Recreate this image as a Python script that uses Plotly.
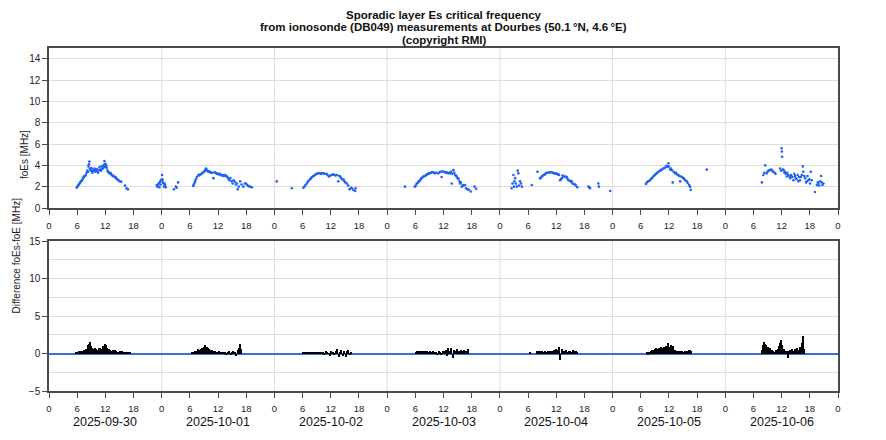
import plotly.graph_objects as go

# ---------------- data ----------------
DATES = ["2025-09-30", "2025-10-01", "2025-10-02", "2025-10-03",
         "2025-10-04", "2025-10-05", "2025-10-06"]
TICK_HOURS = [0, 6, 12, 18]

TITLE_LINES = ["Sporadic layer Es critical frequency",
               "from ionosonde (DB049) measurements at Dourbes (50.1\u2009°N, 4.6\u2009°E)",
               "(copyright RMI)"]

# foEs [MHz] per day: (hour of day, value)
FOES_0930 = [(5.9, 1.9), (6.05, 2.0), (6.2, 2.1), (6.35, 2.2), (6.5, 2.3), (6.65, 2.4), (6.8, 2.5),
             (6.95, 2.55), (7.1, 2.65), (7.25, 2.8), (7.4, 2.9), (7.55, 3.0), (7.7, 3.0), (7.85, 3.1),
             (8.0, 3.3), (8.15, 3.5), (8.3, 3.4), (8.4, 3.9), (8.5, 4.1), (8.6, 4.35), (8.7, 3.7),
             (8.8, 3.6), (8.9, 3.5), (9.0, 3.75), (9.1, 3.45), (9.25, 3.3), (9.4, 3.6), (9.55, 3.5),
             (9.7, 3.7), (9.85, 3.4), (10.0, 3.55), (10.15, 3.65), (10.3, 3.4), (10.45, 3.3),
             (10.6, 3.55), (10.75, 3.85), (10.9, 3.6), (11.05, 3.5), (11.2, 3.9), (11.35, 3.65),
             (11.5, 3.75), (11.6, 3.95), (11.7, 4.05), (11.8, 4.4), (11.9, 3.85), (12.0, 4.15),
             (12.1, 3.9), (12.2, 4.0), (12.3, 3.75), (12.45, 3.5), (12.6, 3.4), (12.75, 3.3),
             (12.9, 3.25), (13.05, 3.3), (13.2, 3.2), (13.35, 3.1), (13.5, 3.05), (13.65, 3.0),
             (13.8, 2.95), (14.0, 2.9), (14.15, 2.9), (14.3, 2.8), (14.5, 2.7), (14.7, 2.65),
             (14.9, 2.55), (15.1, 2.5), (15.4, 2.45), (16.2, 2.1), (16.5, 1.85), (16.8, 1.75),
             (22.93, 2.16), (23.06, 2.0), (23.2, 2.1), (23.36, 2.32), (23.5, 1.95), (23.64, 2.47),
             (23.75, 2.2), (23.85, 2.63)]
FOES_1001 = [(0.07, 3.1), (0.15, 2.7), (0.2, 2.47), (0.34, 2.32), (0.49, 2.0), (0.6, 2.3),
             (0.7, 2.16), (0.85, 1.94), (2.6, 1.75), (3.0, 2.0), (3.2, 1.9), (3.5, 2.4),
             (6.7, 2.07), (6.85, 2.2), (7.0, 2.35), (7.1, 2.5), (7.3, 2.7), (7.5, 2.9), (7.8, 3.1),
             (8.0, 3.05), (8.2, 3.15), (8.5, 3.2), (8.7, 3.3), (8.9, 3.35), (9.1, 3.45), (9.25, 3.55),
             (9.4, 3.7), (9.55, 3.6), (9.7, 3.5), (9.9, 3.4), (10.1, 3.45), (10.3, 3.35), (10.5, 3.3),
             (10.7, 3.3), (11.0, 2.8), (11.2, 3.35), (11.4, 3.3), (11.6, 3.25), (11.8, 3.2),
             (12.0, 3.2), (12.2, 3.15), (12.4, 3.2), (12.6, 3.1), (12.8, 3.05), (13.0, 3.1),
             (13.2, 3.0), (13.5, 3.1), (13.7, 3.0), (13.85, 2.95), (14.0, 2.9), (14.2, 2.75),
             (14.4, 2.6), (14.6, 2.8), (14.9, 2.5), (15.1, 2.3), (15.3, 2.6), (15.6, 2.45),
             (15.8, 2.2), (16.0, 2.3), (16.2, 1.75), (16.4, 2.0), (16.7, 2.5), (17.0, 2.2),
             (17.4, 2.0), (17.7, 2.3), (17.95, 2.3), (18.2, 2.15), (18.5, 2.05), (18.8, 2.0),
             (19.2, 1.95)]
FOES_1002 = [(0.5, 2.5), (3.7, 1.85),
             (6.15, 1.9), (6.4, 2.0), (6.6, 2.15), (6.9, 2.3), (7.1, 2.45), (7.3, 2.55), (7.6, 2.7),
             (7.8, 2.8), (8.0, 2.9), (8.3, 3.0), (8.5, 3.05), (8.8, 3.15), (9.0, 3.2), (9.3, 3.25),
             (9.6, 3.25), (9.9, 3.2), (10.1, 3.25), (10.4, 3.25), (10.7, 3.2), (11.1, 3.2),
             (11.3, 3.1), (11.6, 2.95), (11.9, 3.05), (12.2, 3.1), (12.5, 3.15), (12.8, 3.1),
             (13.0, 3.05), (13.3, 3.1), (13.6, 2.5), (13.8, 3.0), (14.0, 2.95), (14.2, 2.8),
             (14.5, 2.65), (14.7, 2.7), (14.9, 2.5), (15.1, 2.4), (15.4, 2.3), (15.7, 2.1),
             (16.0, 1.75), (16.3, 1.9), (16.5, 1.85), (16.8, 1.7), (17.2, 1.6), (17.3, 1.85)]
FOES_1003 = [(3.8, 2.0),
             (5.9, 2.0), (6.1, 2.1), (6.3, 2.3), (6.5, 2.35), (6.7, 2.5), (6.85, 2.5), (7.0, 2.6),
             (7.2, 2.75), (7.35, 2.8), (7.5, 2.85), (7.7, 2.95), (7.9, 3.0), (8.1, 3.0), (8.3, 3.1),
             (8.5, 3.15), (8.7, 3.2), (8.9, 3.25), (9.1, 3.25), (9.3, 3.3), (9.5, 3.35), (9.8, 3.35),
             (10.0, 3.3), (10.2, 3.25), (10.5, 3.3), (10.9, 3.25), (11.2, 3.35), (11.4, 3.4),
             (11.6, 2.9), (11.8, 3.45), (12.0, 3.4), (12.3, 3.35), (12.5, 3.3), (12.7, 3.35),
             (13.0, 3.25), (13.2, 3.3), (13.4, 3.25), (13.6, 3.4), (13.75, 2.3), (13.9, 3.2),
             (14.1, 3.55), (14.3, 3.3), (14.5, 3.1), (14.65, 3.05), (14.8, 2.95), (15.0, 2.8),
             (15.2, 2.75), (15.4, 2.5), (15.5, 2.3), (15.7, 2.4), (15.9, 2.0), (16.1, 2.15),
             (16.3, 2.1), (16.6, 2.15), (16.8, 1.85), (17.1, 1.75), (17.4, 1.7), (17.8, 1.55),
             (18.6, 2.0), (18.95, 1.8)]
FOES_1004 = [(2.5, 1.85), (2.7, 2.3), (2.9, 3.1), (3.0, 2.0), (3.1, 2.5), (3.25, 2.8), (3.4, 2.3),
             (3.6, 2.0), (3.8, 3.5), (3.95, 3.25), (4.1, 2.1), (4.3, 2.5), (4.5, 2.3), (4.7, 2.0),
             (6.8, 2.15), (8.0, 3.4),
             (8.55, 2.8), (8.7, 2.8), (8.9, 2.95), (9.1, 3.0), (9.3, 3.1), (9.6, 3.15), (9.8, 3.25),
             (10.0, 3.3), (10.3, 3.3), (10.6, 3.35), (10.8, 3.35), (11.05, 3.35), (11.3, 3.3),
             (11.5, 3.25), (11.75, 3.25), (12.0, 3.2), (12.2, 3.2), (12.45, 3.15), (12.6, 3.1),
             (12.8, 2.6), (13.0, 2.7), (13.2, 2.8), (13.35, 3.05), (13.5, 3.0), (13.8, 2.9),
             (14.0, 2.95), (14.25, 2.9), (14.4, 2.75), (14.6, 2.6), (14.9, 2.55), (15.1, 2.45),
             (15.3, 2.5), (15.5, 2.3), (15.7, 2.25), (16.0, 2.2), (16.2, 2.1), (16.5, 1.95),
             (18.85, 2.0), (19.05, 1.95), (19.2, 1.85), (20.96, 2.3), (21.1, 2.0), (23.5, 1.6)]
FOES_1005 = [(7.1, 2.25), (7.3, 2.4), (7.6, 2.5), (7.8, 2.55), (7.95, 2.6), (8.2, 2.75), (8.4, 2.8),
             (8.65, 2.95), (8.9, 3.05), (9.1, 3.15), (9.4, 3.25), (9.6, 3.35), (9.8, 3.4),
             (10.1, 3.5), (10.3, 3.55), (10.5, 3.6), (10.8, 3.7), (11.0, 3.75), (11.2, 3.8),
             (11.5, 3.95), (11.7, 3.85), (11.9, 4.2), (12.0, 3.9), (12.25, 3.6), (12.4, 3.7),
             (12.6, 3.55), (12.8, 2.4), (13.0, 3.4), (13.3, 3.25), (13.5, 3.3), (13.7, 3.15),
             (14.0, 3.1), (14.2, 3.0), (14.4, 2.5), (14.6, 2.95), (14.9, 2.85), (15.1, 2.8),
             (15.3, 2.7), (15.5, 2.6), (15.8, 2.5), (16.0, 2.35), (16.3, 2.15), (16.5, 2.0),
             (16.65, 1.7), (20.05, 3.6)]
FOES_1006 = [(7.8, 2.4), (8.1, 3.1), (8.3, 3.3), (8.5, 4.0), (8.8, 3.25), (9.0, 3.4), (9.2, 3.5),
             (9.5, 3.55), (9.8, 3.6), (10.0, 3.5), (10.2, 3.4), (10.5, 3.3), (10.7, 3.2),
             (11.7, 3.7), (11.9, 3.5), (12.0, 5.6), (12.05, 5.3), (12.1, 4.8), (12.3, 3.6),
             (12.4, 3.55), (12.6, 3.3), (12.7, 3.4), (12.9, 3.2), (13.1, 2.95), (13.2, 3.3),
             (13.4, 3.1), (13.6, 3.0), (13.8, 2.8), (14.0, 3.1), (14.1, 2.95), (14.3, 2.9),
             (14.5, 2.6), (14.7, 3.2), (14.85, 3.0), (15.0, 2.8), (15.2, 2.7), (15.4, 3.1),
             (15.55, 2.5), (15.7, 2.9), (15.9, 2.6), (16.1, 2.9), (16.3, 3.1), (16.5, 3.9),
             (16.6, 3.4), (16.8, 3.0), (17.0, 2.8), (17.2, 2.4), (17.35, 2.5), (17.5, 3.0),
             (17.7, 2.6), (17.9, 2.7), (18.05, 2.3), (18.2, 3.4), (18.4, 2.6), (19.1, 1.5),
             (19.5, 2.15), (19.7, 2.4), (19.8, 2.3), (20.0, 2.1), (20.2, 2.5), (20.4, 3.0),
             (20.5, 2.4), (20.7, 2.15), (20.9, 2.3)]

# foEs - foE difference [MHz] per day: (hour of day, value)
DIFF_0930 = [(5.9, 0.15), (6.2, 0.2), (6.5, 0.3), (6.8, 0.35), (7.1, 0.4), (7.4, 0.45), (7.7, 0.5),
             (8.0, 0.55), (8.3, 1.1), (8.5, 1.3), (8.7, 1.6), (8.9, 1.0), (9.2, 0.7), (9.5, 0.6),
             (9.8, 0.75), (10.1, 0.55), (10.4, 0.45), (10.7, 0.7), (11.0, 0.8), (11.3, 0.6),
             (11.6, 1.0), (11.9, 1.25), (12.2, 1.1), (12.5, 0.7), (12.8, 0.55), (13.1, 0.5),
             (13.4, 0.4), (13.7, 0.45), (14.0, 0.5), (14.3, 0.3), (14.6, 0.25), (14.9, 0.2),
             (15.2, 0.3), (15.5, 0.35), (15.8, 0.15), (16.1, 0.1), (16.5, 0.15), (16.9, 0.2),
             (17.2, 0.1)]
DIFF_1001 = [(6.6, 0.15), (6.9, 0.25), (7.2, 0.3), (7.5, 0.4), (7.8, 0.55), (8.1, 0.5), (8.4, 0.6),
             (8.7, 0.7), (9.0, 0.85), (9.3, 1.1), (9.6, 0.9), (9.9, 0.7), (10.2, 0.6), (10.5, 0.5),
             (10.8, 0.45), (11.1, 0.3), (11.4, 0.35), (11.7, 0.25), (12.0, 0.2), (12.3, 0.3),
             (12.6, 0.2), (12.9, 0.15), (13.2, 0.1), (13.5, 0.2), (13.8, -0.1), (14.1, 0.15),
             (14.4, 0.3), (14.7, -0.2), (15.0, 0.1), (15.3, 0.4), (15.6, 0.2), (15.9, -0.3),
             (16.2, 0.5), (16.5, 0.7), (16.8, 1.25), (17.0, 0.6)]
DIFF_1002 = [(6.2, 0.1), (6.5, 0.15), (6.8, 0.1), (7.1, 0.2), (7.4, 0.15), (7.7, 0.1), (8.0, 0.2),
             (8.3, 0.15), (8.6, 0.1), (8.9, 0.2), (9.2, 0.25), (9.5, 0.15), (9.8, 0.1), (10.1, 0.2),
             (10.4, 0.1), (10.7, -0.2), (11.0, 0.3), (11.3, 0.1), (11.6, 0.05), (11.9, -0.35),
             (12.2, 0.4), (12.5, 0.2), (12.8, -0.1), (13.1, 0.3), (13.4, 0.6), (13.7, -0.4),
             (14.0, 0.2), (14.3, 0.5), (14.6, -0.3), (14.9, 0.4), (15.2, -0.5), (15.5, 0.3),
             (15.8, 0.5), (16.1, -0.2), (16.4, 0.2)]
DIFF_1003 = [(6.2, 0.2), (6.5, 0.3), (6.8, 0.35), (7.1, 0.3), (7.4, 0.35), (7.7, 0.4), (8.0, 0.3),
             (8.3, 0.35), (8.6, 0.3), (8.9, 0.25), (9.2, 0.3), (9.5, 0.2), (9.8, 0.3), (10.1, 0.25),
             (10.4, 0.2), (10.7, -0.15), (11.0, 0.3), (11.3, 0.2), (11.6, -0.2), (11.9, 0.4),
             (12.2, 0.3), (12.5, 0.5), (12.8, -0.3), (13.1, 0.7), (13.4, 0.3), (13.7, 0.8),
             (14.0, -0.6), (14.3, 0.5), (14.6, 0.3), (14.9, 0.6), (15.2, 0.35), (15.5, 0.3),
             (15.8, 0.45), (16.1, 0.3), (16.4, 0.5), (16.7, 0.4), (17.0, 0.3), (17.3, 0.55)]
DIFF_1004 = [(6.4, 0.1), (7.9, 0.3), (8.2, 0.35), (8.5, 0.3), (8.8, 0.25), (9.1, 0.3), (9.4, 0.25),
             (9.7, 0.3), (10.0, 0.2), (10.3, 0.35), (10.6, 0.3), (10.9, 0.4), (11.2, 0.3),
             (11.5, 0.5), (11.8, 0.4), (12.1, 0.6), (12.4, 0.5), (12.7, 0.85), (12.9, -0.8),
             (13.2, 0.6), (13.5, 0.4), (13.8, 0.3), (14.1, 0.5), (14.4, 0.2), (14.7, 0.4),
             (15.0, 0.3), (15.3, 0.2), (15.6, 0.45), (15.9, 0.3), (16.2, 0.4), (16.5, 0.25)]
DIFF_1005 = [(7.3, 0.1), (7.6, -0.2), (7.9, 0.2), (8.2, 0.35), (8.5, 0.5), (8.8, 0.45), (9.1, 0.6),
             (9.4, 0.7), (9.7, 0.6), (10.0, 0.75), (10.3, 0.85), (10.6, 0.7), (10.9, 0.9),
             (11.2, 0.8), (11.5, 1.0), (11.8, 1.35), (12.1, 0.9), (12.4, 1.1), (12.7, 0.6),
             (13.0, 1.0), (13.3, 0.5), (13.6, 0.35), (13.9, 0.4), (14.2, 0.2), (14.5, 0.35),
             (14.8, 0.3), (15.1, 0.25), (15.4, 0.3), (15.7, 0.2), (16.0, 0.3), (16.3, 0.5),
             (16.6, 0.45), (16.85, 0.3)]
DIFF_1006 = [(7.8, 0.5), (8.0, 1.2), (8.2, 1.55), (8.4, 0.9), (8.6, 1.3), (8.8, 1.1), (9.0, 0.6),
             (9.2, 0.9), (9.4, 0.5), (9.6, 0.7), (9.8, 0.4), (10.0, 0.5), (10.3, 0.3), (10.6, 0.15),
             (10.9, 0.5), (11.2, 0.6), (11.5, 1.0), (11.8, 1.4), (12.0, 1.8), (12.2, 1.2),
             (12.5, 0.6), (12.8, 0.4), (13.1, 0.3), (13.4, -0.65), (13.6, 0.4), (13.9, 0.5),
             (14.2, 0.6), (14.5, 0.4), (14.8, 0.55), (15.1, 0.5), (15.4, 0.7), (15.7, 0.5),
             (16.0, 0.9), (16.3, 1.4), (16.5, 2.3), (16.7, 1.8), (16.9, 0.6)]

FOES_BY_DAY = [FOES_0930, FOES_1001, FOES_1002, FOES_1003, FOES_1004, FOES_1005, FOES_1006]
DIFF_BY_DAY = [DIFF_0930, DIFF_1001, DIFF_1002, DIFF_1003, DIFF_1004, DIFF_1005, DIFF_1006]

# ---------------- build ----------------
def flatten(by_day):
    xs, ys = [], []
    for d, pts in enumerate(by_day):
        for h, v in pts:
            xs.append(24 * d + h)
            ys.append(v)
    return xs, ys

fx, fy = flatten(FOES_BY_DAY)
dx, dy = flatten(DIFF_BY_DAY)

FONT = "Liberation Sans, Arial, sans-serif"
AX = "#4a4a4a"
GRID = "#dddddd"
ndays = len(DATES)
xmax = 24 * ndays

tickvals = [24 * d + h for d in range(ndays) for h in TICK_HOURS] + [xmax]
ticktext = [str(h) for d in range(ndays) for h in TICK_HOURS] + ["0"]

fig = go.Figure()
fig.add_trace(go.Scatter(x=fx, y=fy, mode="markers", xaxis="x", yaxis="y",
                         marker=dict(size=2.6, color="#1f62f2", line=dict(width=0)),
                         showlegend=False, hoverinfo="skip"))
fig.add_trace(go.Bar(x=dx, y=dy, xaxis="x2", yaxis="y2", width=0.32,
                     marker=dict(color="black", line=dict(width=0)),
                     showlegend=False, hoverinfo="skip"))

xcommon = dict(range=[0, xmax], tickmode="array", tickvals=tickvals, ticktext=ticktext,
               showgrid=False, zeroline=False, ticks="outside", ticklen=5, tickwidth=1,
               tickcolor=AX, showline=True, linecolor=AX, linewidth=1.5, mirror=True,
               tickfont=dict(size=9.5, color="#222"), ticklabelstandoff=3, automargin=False)

# the page body adds an 8px offset; figure is sized so the plot areas land where intended
BODY = 8
top_h = 160
bot_h = 150
fig_w, fig_h = 886 - BODY, 440 - BODY
m_l, m_t, m_r, m_b = 49 - BODY, 48 - BODY, 48, 49
plot_h = fig_h - m_t - m_b
plot_w = fig_w - m_l - m_r

fig.update_layout(
    width=fig_w, height=fig_h,
    margin=dict(l=m_l, r=m_r, t=m_t, b=m_b, autoexpand=False),
    paper_bgcolor="white", plot_bgcolor="white",
    font=dict(family=FONT, size=10, color="#222"),
    bargap=0,
    xaxis=dict(anchor="y", domain=[0, 1], **xcommon),
    xaxis2=dict(anchor="y2", domain=[0, 1], **xcommon),
    yaxis=dict(domain=[1 - top_h / plot_h, 1], range=[0, 15], tickmode="array",
               tickvals=list(range(0, 15, 2)), showgrid=True, gridcolor=GRID, gridwidth=1,
               zeroline=False, ticks="outside", ticklen=5, tickcolor=AX, showline=True,
               linecolor=AX, linewidth=1.5, mirror=True, tickfont=dict(size=10, color="#222"),
               automargin=False),
    yaxis2=dict(domain=[0, bot_h / plot_h], range=[-5, 15], tick0=0, dtick=5,
                showgrid=True, gridcolor=GRID, gridwidth=1,
                minor=dict(dtick=2.5, showgrid=True, gridcolor=GRID, ticks=""),
                zeroline=True, zerolinecolor="#3b6fd4", zerolinewidth=1.5,
                ticks="outside", ticklen=5, tickcolor=AX, showline=True,
                linecolor=AX, linewidth=1.5, mirror=True, tickfont=dict(size=10, color="#222"),
                automargin=False),
)

# vertical gridlines at each midnight
for d in range(1, ndays):
    for xr, yr in (("x", "y domain"), ("x2", "y2 domain")):
        fig.add_shape(type="line", xref=xr, yref=yr, x0=24 * d, x1=24 * d, y0=0, y1=1,
                      line=dict(color=GRID, width=1), layer="below")

# date labels under the bottom axis
for d, date in enumerate(DATES):
    fig.add_annotation(text=date, x=24 * d + 12, xref="x2", y=-31 / bot_h, yref="y2 domain",
                       showarrow=False, font=dict(size=12.5, color="#111"), yanchor="middle")

# title lines (offsets in px above the plot top); the first must stay inside the figure
for line, ypx in zip(TITLE_LINES, [33.5, 20.8, 8.1]):
    fig.add_annotation(text="<b>" + line + "</b>", x=0.5, xref="paper",
                       y=1 + ypx / plot_h, yref="paper", yanchor="middle",
                       showarrow=False, font=dict(size=11.5, color="#111"))

# axis titles
fig.add_annotation(text="foEs [MHz]", textangle=-90, x=-32 / plot_w, xref="paper",
                   y=1 - top_h / plot_h / 2, yref="paper", showarrow=False,
                   font=dict(size=10, color="#222"))
fig.add_annotation(text="Difference foEs-foE [MHz]", textangle=-90, x=-41 / plot_w,
                   xref="paper", y=bot_h / plot_h / 2, yref="paper", showarrow=False,
                   font=dict(size=10, color="#222"))

fig.write_html("out.html")
